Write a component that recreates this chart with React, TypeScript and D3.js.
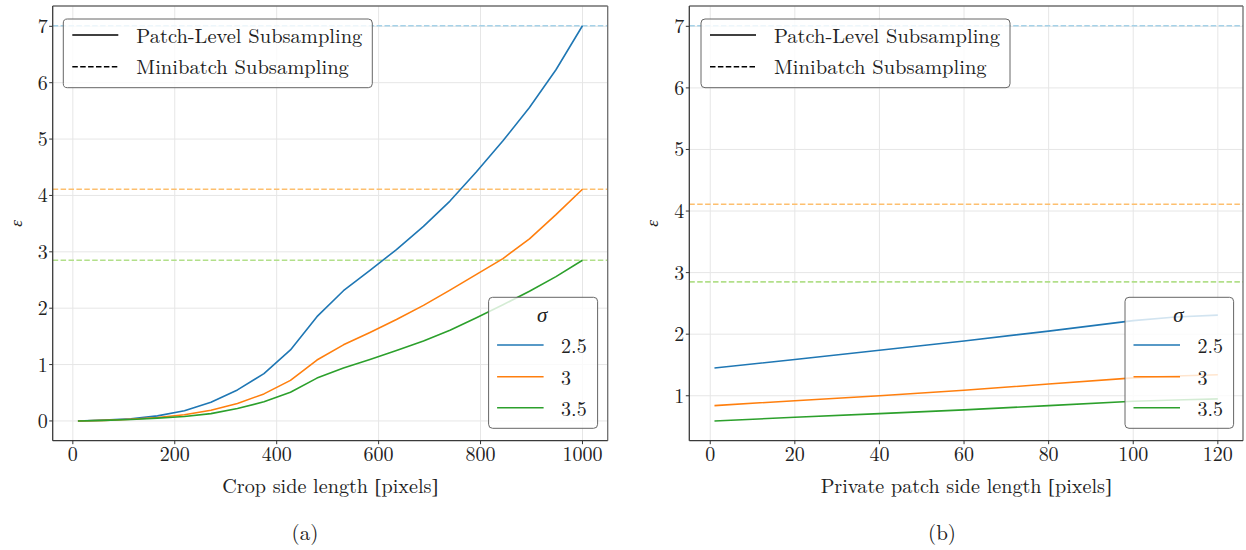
import React from "react";
import * as d3 from "d3";

// ---- data ----
const sigmaLabels = ["2.5", "3", "3.5"];
const seriesColors = ["#1f77b4", "#ff7f0e", "#2ca02c"];
const minibatchColors = ["#a6d2e8", "#fdbf6f", "#b2df8a"];

// (a) crop side length sweep
const cropSides = [10, 62, 114, 166, 219, 271, 323, 375, 427, 479, 531, 583, 635, 688, 740, 792, 844, 896, 948, 1000];
const cropEpsSigma25 = [0, 0.015, 0.04, 0.09, 0.18, 0.33, 0.55, 0.84, 1.26, 1.85, 2.31, 2.67, 3.04, 3.45, 3.9, 4.42, 4.97, 5.56, 6.23, 7.01];
const cropEpsSigma3 = [0, 0.01, 0.03, 0.06, 0.11, 0.19, 0.31, 0.48, 0.72, 1.08, 1.35, 1.57, 1.8, 2.05, 2.32, 2.6, 2.88, 3.23, 3.66, 4.11];
const cropEpsSigma35 = [0, 0.01, 0.025, 0.05, 0.08, 0.13, 0.22, 0.34, 0.51, 0.76, 0.94, 1.09, 1.25, 1.42, 1.61, 1.83, 2.06, 2.3, 2.56, 2.85];

// (b) private patch side length sweep
const patchSides = [1, 20, 40, 60, 80, 100, 110, 120];
const patchEpsSigma25 = [1.45, 1.59, 1.74, 1.89, 2.05, 2.22, 2.28, 2.31];
const patchEpsSigma3 = [0.84, 0.92, 1.0, 1.09, 1.19, 1.29, 1.32, 1.34];
const patchEpsSigma35 = [0.59, 0.65, 0.71, 0.77, 0.84, 0.91, 0.93, 0.95];

// minibatch subsampling reference levels
const minibatchEps = [7.01, 4.11, 2.85];

const cropTicks = [0, 200, 400, 600, 800, 1000];
const patchTicks = [0, 20, 40, 60, 80, 100, 120];
const cropYTicks = [0, 1, 2, 3, 4, 5, 6, 7];
const patchYTicks = [1, 2, 3, 4, 5, 6, 7];

const FONT = '"Latin Modern Roman", "Liberation Serif", serif';
const ALT = '"Liberation Serif", "DejaVu Serif", serif';
const txt = { fontFamily: FONT };
const alt = { fontFamily: ALT };
const itx = { fontFamily: FONT, fontStyle: "italic" as const };

type PanelProps = {
  left: number;
  right: number;
  xDomain: [number, number];
  yDomain: [number, number];
  xs: number[];
  ys: number[][];
  xTicks: number[];
  yTicks: number[];
  xLabel: string;
  xLabelWidth: number;
  caption: string;
  captionX: number;
  legendX: number;
  sigmaBox: { x: number; w: number };
};

const TOP = 6;
const BOTTOM = 440.7;

function Panel(p: PanelProps) {
  const x = d3.scaleLinear().domain(p.xDomain).range([p.left, p.right]);
  const y = d3.scaleLinear().domain(p.yDomain).range([BOTTOM, TOP]);
  const line = d3
    .line<[number, number]>()
    .x((d) => x(d[0]))
    .y((d) => y(d[1]));
  const clipId = `clip-${p.caption.replace(/[()]/g, "")}`;
  const xMid = (p.left + p.right) / 2;

  const lg = p.legendX; // upper-left legend
  const sb = p.sigmaBox;
  const sTop = 297.3;
  const sH = 131;
  const rowY = [345, 376.7, 407.7];

  return (
    <g>
      <defs>
        <clipPath id={clipId}>
          <rect x={p.left} y={TOP} width={p.right - p.left} height={BOTTOM - TOP} />
        </clipPath>
      </defs>
      {/* grid */}
      {p.xTicks.map((t) => (
        <line key={"gx" + t} x1={x(t)} x2={x(t)} y1={TOP} y2={BOTTOM} stroke="#e6e6e6" strokeWidth={1} />
      ))}
      {p.yTicks.map((t) => (
        <line key={"gy" + t} x1={p.left} x2={p.right} y1={y(t)} y2={y(t)} stroke="#e6e6e6" strokeWidth={1} />
      ))}
      <g clipPath={`url(#${clipId})`}>
        {minibatchEps.map((v, i) => (
          <line
            key={"mb" + i}
            x1={p.left}
            x2={p.right}
            y1={y(v)}
            y2={y(v)}
            stroke={minibatchColors[i]}
            strokeWidth={1.6}
            strokeDasharray="5.5,2.4"
          />
        ))}
        {p.ys.map((vals, i) => (
          <path
            key={"s" + i}
            d={line(p.xs.map((xv, j) => [xv, vals[j]]) as [number, number][]) || ""}
            fill="none"
            stroke={seriesColors[i]}
            strokeWidth={1.6}
            strokeLinejoin="round"
          />
        ))}
      </g>
      {/* spines */}
      <line x1={p.left} x2={p.right} y1={TOP} y2={TOP} stroke="#6e6e6e" strokeWidth={1.3} />
      <line x1={p.right} x2={p.right} y1={TOP} y2={BOTTOM} stroke="#6e6e6e" strokeWidth={1.3} />
      <line x1={p.left} x2={p.left} y1={TOP} y2={BOTTOM} stroke="#3a3a3a" strokeWidth={1.3} />
      <line x1={p.left} x2={p.right} y1={BOTTOM} y2={BOTTOM} stroke="#3a3a3a" strokeWidth={1.3} />
      {/* ticks */}
      {p.xTicks.map((t) => (
        <g key={"tx" + t}>
          <line x1={x(t)} x2={x(t)} y1={BOTTOM} y2={BOTTOM + 3.5} stroke="#333" strokeWidth={1} />
          <text x={x(t)} y={461} textAnchor="middle" style={txt} fontSize={20} fill="#222">
            {t}
          </text>
        </g>
      ))}
      {p.yTicks.map((t) => (
        <g key={"ty" + t}>
          <line x1={p.left - 3.5} x2={p.left} y1={y(t)} y2={y(t)} stroke="#333" strokeWidth={1} />
          <text x={p.left - 5} y={y(t) + 7} textAnchor="end" style={txt} fontSize={20} fill="#222">
            {t}
          </text>
        </g>
      ))}
      {/* axis labels */}
      <text
        x={xMid}
        y={493}
        textAnchor="middle"
        style={txt}
        fontSize={20}
        fill="#222"
        textLength={p.xLabelWidth}
        lengthAdjust="spacingAndGlyphs"
      >
        {p.xLabel + " "}
        <tspan style={alt}>[</tspan>
        pixels
        <tspan style={alt}>]</tspan>
      </text>
      <text
        transform={`translate(${p.left - 31},${(TOP + BOTTOM) / 2}) rotate(-90)`}
        textAnchor="middle"
        style={itx}
        fontSize={17}
        fill="#222"
      >
        ε
      </text>
      <text x={p.captionX} y={540} textAnchor="middle" style={txt} fontSize={21} fill="#222">
        {p.caption}
      </text>

      {/* subsampling legend */}
      <rect x={lg} y={19} width={309} height={68.7} rx={4} fill="#fff" fillOpacity={0.8} stroke="#666" strokeWidth={1} />
      <line x1={lg + 9} x2={lg + 55} y1={35} y2={35} stroke="#000" strokeWidth={1.6} />
      <line x1={lg + 9} x2={lg + 55} y1={66.7} y2={66.7} stroke="#000" strokeWidth={1.6} strokeDasharray="5.5,2.4" />
      <text x={lg + 73} y={42.5} style={txt} fontSize={20} fill="#222" textLength={226} lengthAdjust="spacingAndGlyphs">
        Patch-Level Subsampling
      </text>
      <text x={lg + 73} y={74} style={txt} fontSize={20} fill="#222" textLength={212.6} lengthAdjust="spacingAndGlyphs">
        Minibatch Subsampling
      </text>

      {/* sigma legend */}
      <rect x={sb.x} y={sTop} width={sb.w} height={sH} rx={4} fill="#fff" fillOpacity={0.8} stroke="#666" strokeWidth={1} />
      <text x={sb.x + 53.5} y={322.3} textAnchor="middle" style={itx} fontSize={21} fill="#222">
        σ
      </text>
      {sigmaLabels.map((s, i) => (
        <g key={"sl" + s}>
          <line x1={sb.x + 8.5} x2={sb.x + 55} y1={rowY[i]} y2={rowY[i]} stroke={seriesColors[i]} strokeWidth={1.6} />
          <text x={sb.x + 72.5} y={rowY[i] + 8} style={txt} fontSize={20} fill="#222">
            {s}
          </text>
        </g>
      ))}
    </g>
  );
}

export default function App() {
  return (
    <svg
      width={1246}
      height={550}
      viewBox="0 0 1246 550"
      style={{ position: "absolute", left: 0, top: 0, background: "#fff" }}
    >
      <rect x={0} y={0} width={1246} height={550} fill="#fff" />
      <Panel
        left={52.7}
        right={607.7}
        xDomain={[-39.5, 1049.5]}
        yDomain={[-0.3505, 7.3605]}
        xs={cropSides}
        ys={[cropEpsSigma25, cropEpsSigma3, cropEpsSigma35]}
        xTicks={cropTicks}
        yTicks={cropYTicks}
        xLabel="Crop side length"
        xLabelWidth={216}
        caption="(a)"
        captionX={305}
        legendX={63.3}
        sigmaBox={{ x: 488.6, w: 109 }}
      />
      <Panel
        left={689.3}
        right={1243}
        xDomain={[-4.95, 125.95]}
        yDomain={[0.27, 7.33]}
        xs={patchSides}
        ys={[patchEpsSigma25, patchEpsSigma3, patchEpsSigma35]}
        xTicks={patchTicks}
        yTicks={patchYTicks}
        xLabel="Private patch side length"
        xLabelWidth={291}
        caption="(b)"
        captionX={942}
        legendX={701}
        sigmaBox={{ x: 1125, w: 108.6 }}
      />
    </svg>
  );
}
